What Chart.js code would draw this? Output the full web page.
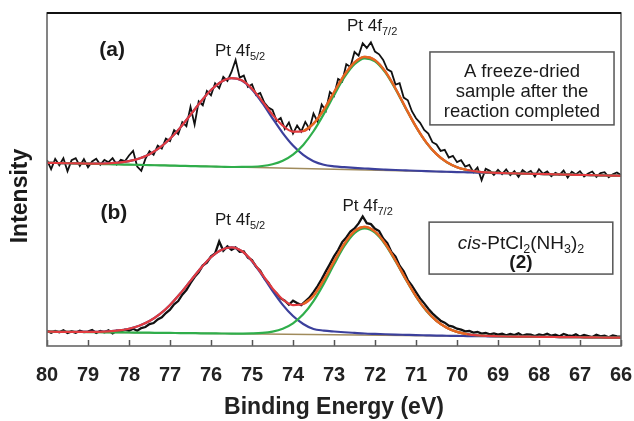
<!DOCTYPE html>
<html>
<head>
<meta charset="utf-8">
<script src="https://cdn.jsdelivr.net/npm/chart.js@4.4.1/dist/chart.umd.min.js"></script>
<style>
  html, body { margin: 0; padding: 0; background: #fff; }
  #wrap { width: 634px; height: 421px; }
</style>
</head>
<body>
<div id="wrap"><canvas id="xpsChart" width="634" height="421"></canvas></div>
<script>
// binding energy grid of the fitted curves (eV)
const fitEnergy = [80, 79.75, 79.5, 79.25, 79, 78.75, 78.5, 78.25, 78, 77.75,
  77.5, 77.25, 77, 76.75, 76.5, 76.25, 76, 75.75, 75.5, 75.25,
  75, 74.75, 74.5, 74.25, 74, 73.75, 73.5, 73.25, 73, 72.75,
  72.5, 72.25, 72, 71.75, 71.5, 71.25, 71, 70.75, 70.5, 70.25,
  70, 69.75, 69.5, 69.25, 69, 68.75, 68.5, 68.25, 68, 67.75,
  67.5, 67.25, 67, 66.75, 66.5, 66.25, 66];

// raw scans are sampled every 0.1 eV from 80 down to 66
const scanStart = 80, scanStep = 0.1;

// (a) freeze-dried sample, offset upwards
const aRaw = [55.8, 53.1, 56.2, 54.3, 56.4, 52.5, 55.8, 56.4, 54.1, 56.1,
  53.7, 55.4, 56.2, 54.4, 55.9, 55.2, 56.4, 54.5, 55.9, 55.5,
  57.2, 58.6, 53.9, 52.6, 56.2, 58.5, 57.4, 60.2, 59.3, 62.3,
  61.5, 64.8, 63.6, 67.2, 66.0, 71.8, 66.5, 73.5, 72.3, 76.6,
  75.3, 78.9, 77.4, 80.8, 79.6, 82.3, 85.9, 80.6, 81.2, 77.8,
  78.6, 75.4, 76.0, 73.1, 71.6, 70.9, 67.6, 68.5, 65.2, 67.1,
  63.8, 66.2, 64.4, 67.3, 65.2, 69.8, 67.4, 72.5, 70.6, 76.3,
  75.1, 80.2, 79.4, 84.6, 83.8, 88.3, 87.2, 90.9, 89.5, 91.2,
  88.4, 87.6, 85.9, 83.1, 82.4, 78.5, 78.9, 74.6, 73.8, 70.5,
  68.4, 67.0, 64.9, 63.8, 61.2, 60.5, 58.6, 58.9, 56.6, 57.1,
  55.2, 55.8, 53.9, 54.4, 52.2, 53.6, 49.8, 53.2, 52.6, 51.4,
  52.9, 51.6, 53.0, 51.3, 52.5, 50.8, 52.8, 51.9, 52.6, 50.9,
  53.1, 51.7, 52.4, 51.0, 52.0, 51.4, 52.7, 50.6, 52.3, 51.5,
  52.5, 50.9, 51.8, 52.4, 50.8, 51.9, 52.2, 50.7, 51.6, 52.1,
  51.3];
const aBlue = [55.02, 54.95, 54.88, 54.83, 54.79, 54.78, 54.86, 55.06, 55.50, 56.29,
  57.59, 59.54, 62.22, 65.58, 69.43, 73.36, 76.86, 79.36, 80.43, 79.71,
  77.05, 73.02, 68.39, 63.95, 60.21, 57.40, 55.49, 54.43, 53.96, 53.69,
  53.47, 53.30, 53.13, 52.99, 52.86, 52.74, 52.62, 52.51, 52.41, 52.32,
  52.22, 52.15, 52.08, 52.01, 51.94, 51.87, 51.80, 51.73, 51.66, 51.59,
  51.52, 51.45, 51.38, 51.31, 51.24, 51.17, 51.10];
const aGreen = [55.02, 54.95, 54.88, 54.81, 54.74, 54.67, 54.60, 54.53, 54.46, 54.39,
  54.32, 54.25, 54.18, 54.11, 54.04, 53.97, 53.90, 53.83, 53.76, 53.77,
  53.83, 54.05, 54.58, 55.64, 57.49, 60.39, 64.49, 69.62, 75.29, 80.63,
  84.63, 86.40, 85.52, 82.19, 77.13, 71.33, 65.76, 61.08, 57.56, 55.18,
  53.70, 52.85, 52.38, 52.13, 51.98, 51.87, 51.80, 51.73, 51.66, 51.59,
  51.52, 51.45, 51.38, 51.31, 51.24, 51.17, 51.10];
const aEnvelope = [55.02, 54.95, 54.88, 54.83, 54.79, 54.78, 54.86, 55.06, 55.50, 56.29,
  57.59, 59.54, 62.22, 65.58, 69.43, 73.36, 76.86, 79.36, 80.43, 79.79,
  77.26, 73.52, 69.49, 66.18, 64.36, 64.52, 66.78, 70.92, 76.19, 81.33,
  85.18, 86.85, 85.87, 82.47, 77.35, 71.50, 65.88, 61.16, 57.61, 55.21,
  53.70, 52.85, 52.38, 52.13, 51.98, 51.87, 51.80, 51.73, 51.66, 51.59,
  51.52, 51.45, 51.38, 51.31, 51.24, 51.17, 51.10];
const aBaseline = [55.02, 51.10];

// (b) cis-PtCl2(NH3)2 reference
const bRaw = [4.6, 4.0, 4.5, 4.1, 4.7, 3.9, 4.4, 4.0, 4.6, 4.2,
  4.3, 4.8, 3.9, 4.5, 4.1, 4.7, 3.8, 4.6, 4.4, 4.9,
  4.6, 5.2, 4.6, 5.4, 5.7, 6.6, 6.9, 8.0, 8.6, 9.9,
  10.9, 12.5, 13.5, 15.4, 16.8, 18.9, 20.7, 22.1, 24.2, 25.0,
  26.9, 27.8, 31.4, 28.6, 29.9, 28.9, 29.6, 28.3, 28.4, 26.5,
  25.8, 23.8, 22.6, 20.3, 19.0, 16.9, 15.8, 14.3, 13.6, 12.4,
  13.6, 12.9, 12.3, 13.4, 14.5, 16.2, 18.0, 20.1, 22.4, 24.6,
  26.9, 28.8, 31.2, 32.6, 34.4, 35.3, 36.8, 38.9, 36.9, 36.6,
  35.2, 34.5, 32.3, 30.9, 28.2, 26.8, 24.1, 22.4, 19.8, 18.1,
  16.2, 14.3, 12.8, 11.2, 9.8, 8.7, 7.6, 7.0, 6.1, 5.8,
  5.2, 4.9, 4.4, 4.5, 4.0, 4.2, 3.7, 3.9, 3.5, 3.8,
  3.4, 3.7, 3.2, 3.6, 3.3, 3.8, 3.1, 3.5, 3.4, 3.0,
  3.5, 3.2, 3.7, 3.1, 3.4, 2.9, 3.6, 3.2, 3.0, 3.5,
  2.8, 3.3, 3.0, 2.7, 3.4, 2.9, 3.1, 2.6, 3.2, 2.9,
  2.8];
const bBlue = [4.31, 4.27, 4.25, 4.23, 4.24, 4.27, 4.40, 4.67, 5.19, 6.08,
  7.49, 9.55, 12.33, 15.75, 19.57, 23.37, 26.65, 28.86, 29.63, 28.50,
  25.45, 21.18, 16.56, 12.36, 9.00, 6.61, 5.10, 4.64, 4.36, 4.13,
  3.94, 3.76, 3.64, 3.53, 3.43, 3.35, 3.27, 3.20, 3.13, 3.08,
  3.02, 2.99, 2.95, 2.92, 2.89, 2.86, 2.82, 2.79, 2.76, 2.73,
  2.69, 2.66, 2.63, 2.60, 2.56, 2.53, 2.50];
const bGreen = [4.31, 4.27, 4.24, 4.21, 4.18, 4.14, 4.11, 4.08, 4.05, 4.02,
  3.99, 3.95, 3.92, 3.89, 3.86, 3.82, 3.79, 3.76, 3.73, 3.74,
  3.79, 3.94, 4.34, 5.20, 6.82, 9.50, 13.48, 18.66, 24.47, 29.95,
  33.89, 35.31, 34.02, 30.48, 25.47, 19.96, 14.82, 10.61, 7.51, 5.47,
  4.24, 3.56, 3.19, 3.02, 2.93, 2.86, 2.82, 2.79, 2.76, 2.73,
  2.69, 2.66, 2.63, 2.60, 2.56, 2.53, 2.50];
const bEnvelope = [4.31, 4.27, 4.25, 4.23, 4.24, 4.27, 4.40, 4.67, 5.19, 6.08,
  7.49, 9.55, 12.33, 15.75, 19.57, 23.37, 26.65, 28.86, 29.63, 28.54,
  25.57, 21.49, 17.30, 13.99, 12.28, 12.61, 15.11, 19.86, 25.42, 30.70,
  34.49, 35.76, 34.38, 30.76, 25.69, 20.13, 14.94, 10.69, 7.56, 5.50,
  4.24, 3.56, 3.19, 3.02, 2.93, 2.86, 2.82, 2.79, 2.76, 2.73,
  2.69, 2.66, 2.63, 2.60, 2.56, 2.53, 2.50];
const bBaseline = [4.31, 2.50];

const xTicks = [80, 79, 78, 77, 76, 75, 74, 73, 72, 71, 70, 69, 68, 67, 66];

const FONT = "'Liberation Sans', Arial, sans-serif";
const RED = '#e23b3f', BLUE = '#3c409c', GREEN = '#2fae4b', ORANGE = '#e5691f', OLIVE = '#a08b5c';

function scanPoints(values) {
  return values.map((v, i) => ({ x: +(scanStart - i * scanStep).toFixed(1), y: v }));
}
function fitPoints(values) {
  return values.map((v, i) => ({ x: fitEnergy[i], y: v }));
}
// orange overlay on the 4f7/2 part of the envelope
function peakPart(values) {
  return fitPoints(values).filter(p => p.x <= 73.75 && p.x >= 69.75);
}

function fitSet(data, color, order, width) {
  return { data, borderColor: color, borderWidth: width || 2.2, cubicInterpolationMode: 'monotone', order };
}

const datasets = [
  fitSet(peakPart(aEnvelope), ORANGE, 0),
  fitSet(fitPoints(aEnvelope), RED, 1),
  fitSet(fitPoints(aGreen), GREEN, 2),
  fitSet(fitPoints(aBlue), BLUE, 3),
  fitSet([{ x: 80, y: aBaseline[0] }, { x: 66, y: aBaseline[1] }], OLIVE, 4, 1.5),
  { data: scanPoints(aRaw), borderColor: '#111', borderWidth: 1.8, tension: 0, order: 5 },
  fitSet(peakPart(bEnvelope), ORANGE, 0),
  fitSet(fitPoints(bEnvelope), RED, 1),
  fitSet(fitPoints(bGreen), GREEN, 2),
  fitSet(fitPoints(bBlue), BLUE, 3),
  fitSet([{ x: 80, y: bBaseline[0] }, { x: 66, y: bBaseline[1] }], OLIVE, 4, 1.5),
  { data: scanPoints(bRaw), borderColor: '#111', borderWidth: 2.3, tension: 0, order: 5 }
];

// text runs: [text, font, baseline shift]
function drawRuns(ctx, cx, y, runs) {
  let total = 0;
  runs.forEach(r => { ctx.font = r[1]; total += ctx.measureText(r[0]).width; });
  let x = cx - total / 2;
  runs.forEach(r => {
    ctx.font = r[1];
    ctx.fillText(r[0], x, y + (r[2] || 0));
    x += ctx.measureText(r[0]).width;
  });
}

function ptLabel(sub) {
  return [['Pt 4f', '17px ' + FONT, 0], [sub, '11px ' + FONT, 4]];
}

const labels = [
  { e: 78.41, v: 87.1, runs: [['(a)', 'bold 21px ' + FONT]] },
  { e: 78.37, v: 38.1, runs: [['(b)', 'bold 21px ' + FONT]] },
  { e: 75.29, v: 87.1, runs: ptLabel('5/2') },
  { e: 72.07, v: 94.6, runs: ptLabel('7/2') },
  { e: 75.29, v: 36.3, runs: ptLabel('5/2') },
  { e: 72.18, v: 40.5, runs: ptLabel('7/2') }
];

const boxes = [
  { e1: 70.66, e2: 66.17, v1: 88.3, v2: 66.4, lines: [
    { v: 80.8, runs: [['A freeze-dried', '18.5px ' + FONT]] },
    { v: 74.8, runs: [['sample after the', '18.5px ' + FONT]] },
    { v: 68.8, runs: [['reaction completed', '18.5px ' + FONT]] }
  ] },
  { e1: 70.68, e2: 66.20, v1: 37.2, v2: 21.6, lines: [
    { v: 29.1, runs: [['cis', 'italic 19px ' + FONT], ['-PtCl', '19px ' + FONT], ['2', '12.5px ' + FONT, 4],
      ['(NH', '19px ' + FONT], ['3', '12.5px ' + FONT, 4], [')', '19px ' + FONT], ['2', '12.5px ' + FONT, 4]] },
    { v: 23.4, runs: [['(2)', 'bold 19px ' + FONT]] }
  ] }
];

const framePlugin = {
  id: 'frame',
  afterDraw(chart) {
    const ctx = chart.ctx, a = chart.chartArea;
    const xs = chart.scales.x, ys = chart.scales.y;
    ctx.save();
    // inward ticks
    ctx.strokeStyle = '#555';
    ctx.lineWidth = 1.5;
    xTicks.forEach(t => {
      const px = Math.round(xs.getPixelForValue(t)) + 0.5;
      ctx.beginPath();
      ctx.moveTo(px, a.bottom);
      ctx.lineTo(px, a.bottom - 6);
      ctx.stroke();
    });
    // plot frame
    ctx.strokeStyle = '#666';
    ctx.lineWidth = 1.6;
    ctx.strokeRect(a.left, a.top, a.right - a.left, a.bottom - a.top);
    ctx.strokeStyle = '#111';
    ctx.lineWidth = 2;
    ctx.beginPath();
    ctx.moveTo(a.left, a.top);
    ctx.lineTo(a.right, a.top);
    ctx.stroke();

    ctx.fillStyle = '#1a1a1a';
    ctx.textAlign = 'left';
    ctx.textBaseline = 'alphabetic';
    labels.forEach(l => drawRuns(ctx, xs.getPixelForValue(l.e), ys.getPixelForValue(l.v), l.runs));

    boxes.forEach(b => {
      const x1 = xs.getPixelForValue(b.e1), x2 = xs.getPixelForValue(b.e2);
      const y1 = ys.getPixelForValue(b.v1), y2 = ys.getPixelForValue(b.v2);
      ctx.strokeStyle = '#555';
      ctx.lineWidth = 1.5;
      ctx.strokeRect(x1, y1, x2 - x1, y2 - y1);
      b.lines.forEach(ln => drawRuns(ctx, (x1 + x2) / 2, ys.getPixelForValue(ln.v), ln.runs));
    });

    // y axis title
    ctx.translate(21, 196);
    ctx.rotate(-Math.PI / 2);
    ctx.textAlign = 'center';
    ctx.textBaseline = 'middle';
    ctx.font = 'bold 23px ' + FONT;
    ctx.fillText('Intensity', 0, 0);
    ctx.restore();
  }
};

const ctx = document.getElementById('xpsChart').getContext('2d');
new Chart(ctx, {
  type: 'line',
  data: { datasets },
  options: {
    responsive: false,
    animation: false,
    devicePixelRatio: 1,
    layout: { padding: { left: 47, right: 13, top: 13, bottom: 0 } },
    plugins: { legend: { display: false }, tooltip: { enabled: false } },
    elements: { point: { radius: 0 } },
    scales: {
      x: {
        type: 'linear',
        reverse: true,
        min: 66,
        max: 80,
        afterBuildTicks: (s) => { s.ticks = xTicks.map(v => ({ value: v })); },
        ticks: { autoSkip: false, maxRotation: 0, padding: 17, color: '#222',
          font: { family: FONT, size: 20, weight: 'bold' } },
        grid: { display: false, drawTicks: false },
        border: { display: false },
        title: { display: true, text: 'Binding Energy (eV)', color: '#222',
          font: { family: FONT, size: 23, weight: 'bold' }, padding: { top: 0, bottom: 0 } },
        afterFit: (s) => { s.height = 75; s.paddingLeft = 0; s.paddingRight = 0; }
      },
      y: { display: false, min: 0, max: 100 }
    }
  },
  plugins: [framePlugin]
});
</script>
</body>
</html>
